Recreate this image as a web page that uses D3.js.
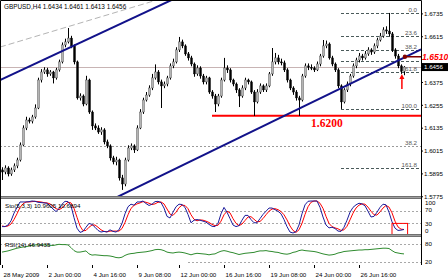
<!DOCTYPE html>
<html>
<head>
<meta charset="utf-8">
<script src="https://cdn.jsdelivr.net/npm/d3@7"></script>
<style>
  body { margin: 0; background: #fff; }
  svg { display: block; font-family: "Liberation Sans", Arial, sans-serif; }
</style>
</head>
<body>
<svg width="448" height="280"></svg>
<script>
// GBPUSD H4 candles
var open = [
  1.5916,1.5905,1.5926,1.5895,1.5916,1.5937,1.5968,1.6047,1.6136,1.6178,
  1.6172,1.6194,1.6241,1.6388,1.6430,1.6441,1.6420,1.6430,1.6399,1.6441,
  1.6483,1.6572,1.6588,1.6608,1.6567,1.6483,1.6294,1.6304,1.6262,1.6388,
  1.6220,1.6147,1.6136,1.6115,1.6126,1.6063,1.6042,1.5979,1.5958,1.5968,
  1.5874,1.5842,1.5968,1.6031,1.6042,1.6021,1.6136,1.6220,1.6283,1.6309,
  1.6346,1.6399,1.6430,1.6378,1.6357,1.6367,1.6399,1.6462,1.6483,1.6546,
  1.6588,1.6567,1.6525,1.6504,1.6472,1.6420,1.6451,1.6409,1.6378,1.6399,
  1.6325,1.6304,1.6262,1.6304,1.6388,1.6451,1.6441,1.6388,1.6367,1.6336,
  1.6304,1.6346,1.6388,1.6378,1.6325,1.6273,1.6325,1.6357,1.6336,1.6357,
  1.6420,1.6483,1.6504,1.6483,1.6478,1.6441,1.6388,1.6346,1.6325,1.6294,
  1.6283,1.6409,1.6462,1.6455,1.6451,1.6441,1.6472,1.6514,1.6567,1.6577,
  1.6504,1.6472,1.6441,1.6357,1.6273,1.6336,1.6367,1.6409,1.6462,1.6493,
  1.6514,1.6504,1.6525,1.6546,1.6535,1.6567,1.6598,1.6619,1.6651,1.6645,
  1.6630,1.6546,1.6514,1.6462,1.6434];
var high = [
  1.5930,1.5940,1.5935,1.5928,1.5950,1.5980,1.6060,1.6150,1.6195,1.6190,
  1.6205,1.6260,1.6400,1.6445,1.6455,1.6452,1.6440,1.6436,1.6452,1.6495,
  1.6585,1.6605,1.6661,1.6620,1.6575,1.6490,1.6318,1.6312,1.6410,1.6395,
  1.6228,1.6160,1.6150,1.6140,1.6135,1.6075,1.6050,1.5990,1.5985,1.5975,
  1.5890,1.5980,1.6045,1.6055,1.6050,1.6150,1.6235,1.6295,1.6325,1.6360,
  1.6420,1.6470,1.6440,1.6390,1.6380,1.6410,1.6475,1.6500,1.6560,1.6614,
  1.6600,1.6575,1.6535,1.6515,1.6480,1.6465,1.6460,1.6420,1.6410,1.6405,
  1.6335,1.6315,1.6315,1.6400,1.6504,1.6465,1.6450,1.6395,1.6375,1.6345,
  1.6360,1.6400,1.6395,1.6385,1.6335,1.6340,1.6370,1.6365,1.6370,1.6430,
  1.6556,1.6530,1.6520,1.6500,1.6490,1.6450,1.6395,1.6355,1.6335,1.6305,
  1.6420,1.6475,1.6475,1.6470,1.6460,1.6485,1.6525,1.6598,1.6595,1.6585,
  1.6515,1.6480,1.6450,1.6365,1.6345,1.6380,1.6420,1.6475,1.6505,1.6530,
  1.6525,1.6540,1.6560,1.6555,1.6580,1.6610,1.6635,1.6665,1.6670,1.6740,
  1.6640,1.6555,1.6525,1.6470,1.6461];
var low = [
  1.5863,1.5893,1.5882,1.5885,1.5905,1.5925,1.5960,1.6040,1.6125,1.6160,
  1.6160,1.6185,1.6235,1.6375,1.6420,1.6405,1.6410,1.6370,1.6390,1.6432,
  1.6475,1.6560,1.6580,1.6555,1.6470,1.6285,1.6280,1.6250,1.6255,1.6210,
  1.6126,1.6125,1.6105,1.6100,1.6050,1.6030,1.5965,1.5945,1.5940,1.5860,
  1.5811,1.5830,1.5960,1.6020,1.6005,1.6015,1.6130,1.6210,1.6275,1.6300,
  1.6335,1.6390,1.6365,1.6241,1.6345,1.6355,1.6390,1.6450,1.6475,1.6535,
  1.6555,1.6515,1.6490,1.6460,1.6405,1.6410,1.6395,1.6365,1.6365,1.6315,
  1.6290,1.6220,1.6250,1.6295,1.6380,1.6425,1.6375,1.6355,1.6320,1.6246,
  1.6295,1.6335,1.6365,1.6315,1.6199,1.6265,1.6315,1.6325,1.6325,1.6350,
  1.6410,1.6470,1.6470,1.6465,1.6430,1.6375,1.6335,1.6310,1.6280,1.6199,
  1.6275,1.6400,1.6440,1.6440,1.6430,1.6435,1.6460,1.6505,1.6555,1.6495,
  1.6460,1.6430,1.6345,1.6236,1.6265,1.6325,1.6355,1.6400,1.6450,1.6480,
  1.6490,1.6495,1.6515,1.6520,1.6525,1.6555,1.6590,1.6610,1.6630,1.6615,
  1.6535,1.6500,1.6450,1.6420,1.6413];
var close = [
  1.5905,1.5926,1.5895,1.5916,1.5937,1.5968,1.6047,1.6136,1.6178,1.6172,
  1.6194,1.6241,1.6388,1.6430,1.6441,1.6420,1.6430,1.6399,1.6441,1.6483,
  1.6572,1.6588,1.6608,1.6567,1.6483,1.6294,1.6304,1.6262,1.6388,1.6220,
  1.6147,1.6136,1.6115,1.6126,1.6063,1.6042,1.5979,1.5958,1.5968,1.5874,
  1.5842,1.5968,1.6031,1.6042,1.6021,1.6136,1.6220,1.6283,1.6309,1.6346,
  1.6399,1.6430,1.6378,1.6357,1.6367,1.6399,1.6462,1.6483,1.6546,1.6588,
  1.6567,1.6525,1.6504,1.6472,1.6420,1.6451,1.6409,1.6378,1.6399,1.6325,
  1.6304,1.6262,1.6304,1.6388,1.6451,1.6441,1.6388,1.6367,1.6336,1.6304,
  1.6346,1.6388,1.6378,1.6325,1.6273,1.6325,1.6357,1.6336,1.6357,1.6420,
  1.6483,1.6504,1.6483,1.6478,1.6441,1.6388,1.6346,1.6325,1.6294,1.6283,
  1.6409,1.6462,1.6455,1.6451,1.6441,1.6472,1.6514,1.6567,1.6577,1.6504,
  1.6472,1.6441,1.6357,1.6273,1.6336,1.6367,1.6409,1.6462,1.6493,1.6514,
  1.6504,1.6525,1.6546,1.6535,1.6567,1.6598,1.6619,1.6651,1.6645,1.6630,
  1.6546,1.6514,1.6462,1.6434,1.6456];

// Stochastic(5,3,3) main and signal, RSI(14)
var stoK = [
  20,20,25,38,62,80,97,97,97,98, 100,99,96,95,94,93,85,75,67,76,
  90,99,98,85,48,15,2,5,18,30, 27,18,8,3,5,3,10,5,3,10,
  30,60,82,90,87,97,97,100,92,86, 90,98,99,95,78,52,47,65,82,90,
  89,80,58,32,40,42,40,37,34,27, 21,20,30,60,80,65,45,25,20,23,
  40,55,55,42,32,32,45,58,68,78, 78,73,68,60,42,20,3,0,4,25,
  60,88,99,100,100,100,80,50,25,16, 18,14,6,5,18,40,65,80,88,93,
  91,85,68,50,52,65,80,90,88,65, 35,15,8,9,11];
var stoD = [
  22,20,22,28,42,60,80,91,97,97, 98,99,98,97,95,94,91,84,76,73,
  78,88,96,94,77,49,22,7,8,18, 25,25,18,10,5,4,6,6,6,6,
  14,33,57,77,86,91,94,98,96,93, 89,91,96,97,91,75,59,55,65,79,
  87,86,76,57,43,38,41,40,37,33, 27,23,24,37,57,68,63,45,30,23,
  28,39,50,51,43,35,36,45,57,68, 75,76,73,67,57,41,22,8,2,10,
  30,58,82,96,100,100,93,77,52,30, 20,16,13,8,10,21,41,62,78,87,
  91,90,81,68,57,56,66,78,86,81, 63,37,19,12,11];
var rsi = [
  53,55,57,60,63,66,68,70,71,73, 75,77,77,77,77,76,76,75,77,79,
  78,78,77,68,58,53,53,55,57,47, 43,44,43,42,41,41,40,38,35,34,
  36,42,46,48,49,51,52,53,54,56, 58,61,62,61,58,53,51,50,52,53,
  52,50,47,44,47,49,48,47,46,44, 46,47,52,56,58,56,53,51,48,45,
  47,49,50,51,52,55,57,57,58,56, 55,53,52,49,47,46,48,52,54,58,
  60,58,57,56,55,53,50,47,45,43, 44,46,50,52,55,56,57,58,59,60,
  60,61,61,62,63,64,65,66,66,65, 58,52,50,48,47];

var priceTicks = [1.6735, 1.6615, 1.6375, 1.6255, 1.6135, 1.6015, 1.5895, 1.5775];
var timeLabels = ["28 May 2009", "2 Jun 00:00", "4 Jun 16:00", "9 Jun 08:00", "12 Jun 00:00",
                  "16 Jun 16:00", "19 Jun 08:00", "24 Jun 00:00", "26 Jun 16:00"];
var timeBars = [0, 15, 30, 45, 59, 74, 89, 104, 119];

var fibHigh = 1.6740, fibLow = 1.6236, fibFrom = 113;
var fibLevels = [0, 23.6, 38.2, 50, 61.8, 100, 161.8];
var fibLabels = ["0.0", "23.6", "38.2", "", "61.8", "100.0", "161.8"];

// trend lines as two anchor points (bar, price)
var trendLines = [
  {b1: 0, p1: 1.6564, b2: 40, p2: 1.6753, color: "#b4b4b4", w: 1, dash: "6,3"},
  {b1: 0, p1: 1.6393, b2: 50, p2: 1.6760, color: "#12128a", w: 2, dash: null},
  {b1: 40, p1: 1.5786, b2: 130, p2: 1.6475, color: "#12128a", w: 2, dash: null}
];

var supportLevel = 1.6200, supportFrom = 70, supportLabelBar = 103;
var markLevel = 1.6510, markBar = 134.3;
var arrowBar = 133.3, arrowTop = 1.6420, arrowBottom = 1.6341;

var svg = d3.select("svg");
var right = 421;

var x = d3.scaleLinear().domain([0, 134]).range([2, 404]);
var y = d3.scaleLinear().domain([1.5779, 1.6808]).range([196, 0]);
var ySto = d3.scaleLinear().domain([0, 100]).range([233, 201]);
var yRsi = d3.scaleLinear().domain([0, 100]).range([268, 238]);

var defs = svg.append("defs");
function clip(id, y0, h) {
  defs.append("clipPath").attr("id", id)
    .append("rect").attr("x", 0).attr("y", y0).attr("width", right).attr("height", h);
}
clip("cMain", 0, 196);
clip("cSto", 199, 35);
clip("cRsi", 237, 28);

var main = svg.append("g").attr("clip-path", "url(#cMain)");

// bid line
main.append("line")
  .attr("x1", 0).attr("x2", right)
  .attr("y1", Math.round(y(close[close.length - 1])) + 0.5)
  .attr("y2", Math.round(y(close[close.length - 1])) + 0.5)
  .attr("stroke", "#c8b4b4");

// fibo 138.2 spans whole chart
var f1382 = Math.round(y(fibHigh - 1.382 * (fibHigh - fibLow))) + 0.5;
main.append("line").attr("x1", 0).attr("x2", right).attr("y1", f1382).attr("y2", f1382)
  .attr("stroke", "#9a9a9a").attr("stroke-dasharray", "2,2");
main.append("text").attr("x", 417).attr("y", f1382 - 2).attr("text-anchor", "end")
  .attr("font-size", 6.2).attr("fill", "#555").text("38.2");

fibLevels.forEach(function (lv, k) {
  var yy = Math.round(y(fibHigh - lv / 100 * (fibHigh - fibLow))) + 0.5;
  main.append("line").attr("x1", x(fibFrom)).attr("x2", right - 1)
    .attr("y1", yy).attr("y2", yy)
    .attr("stroke", "#4a5a5a").attr("stroke-dasharray", "3,2");
  main.append("text").attr("x", 417).attr("y", yy - 2).attr("text-anchor", "end")
    .attr("font-size", 6.2).attr("fill", "#555").text(fibLabels[k]);
});

// support 1.6200
var ys = y(supportLevel);
main.append("line").attr("x1", x(supportFrom)).attr("x2", right)
  .attr("y1", ys).attr("y2", ys).attr("stroke", "#ff0000").attr("stroke-width", 2);
main.append("text").attr("x", x(supportLabelBar)).attr("y", ys + 11)
  .attr("font-family", "'Liberation Serif', 'Times New Roman', serif")
  .attr("font-weight", "bold").attr("font-size", 11.5).attr("fill", "#ff0000")
  .text(supportLevel.toFixed(4));

// candles
var bars = d3.range(close.length);
main.append("g").selectAll("line").data(bars).enter().append("line")
  .attr("x1", function (i) { return Math.round(x(i)) + 0.5; })
  .attr("x2", function (i) { return Math.round(x(i)) + 0.5; })
  .attr("y1", function (i) { return y(high[i]); })
  .attr("y2", function (i) { return y(low[i]); })
  .attr("stroke", "#000");
main.append("g").selectAll("rect").data(bars).enter().append("rect")
  .attr("x", function (i) { return Math.round(x(i)) - 0.5; })
  .attr("width", 2)
  .attr("y", function (i) { return y(Math.max(open[i], close[i])); })
  .attr("height", function (i) { return Math.max(1, Math.abs(y(open[i]) - y(close[i]))); })
  .attr("fill", function (i) { return close[i] >= open[i] ? "#b4b4b4" : "#000"; })
  .attr("stroke", function (i) { return close[i] >= open[i] ? "#444" : "#000"; })
  .attr("stroke-width", 0.4);

// trend lines, extended across the panel
trendLines.forEach(function (t) {
  var slope = (t.p2 - t.p1) / (t.b2 - t.b1);
  var bA = x.invert(0), bB = x.invert(right);
  main.append("line")
    .attr("x1", 0).attr("y1", y(t.p1 + slope * (bA - t.b1)))
    .attr("x2", right).attr("y2", y(t.p1 + slope * (bB - t.b1)))
    .attr("stroke", t.color).attr("stroke-width", t.w)
    .attr("stroke-dasharray", t.dash);
});

// 1.6510 marker
var ym = y(markLevel);
main.append("line").attr("x1", x(markBar)).attr("x2", right).attr("y1", ym).attr("y2", ym)
  .attr("stroke", "#800000").attr("stroke-width", 1.5);
main.append("circle").attr("cx", x(markBar)).attr("cy", ym).attr("r", 2.2).attr("fill", "#800000");

// red arrow
var ax = x(arrowBar), at = y(arrowTop), ab = y(arrowBottom);
main.append("line").attr("x1", ax).attr("x2", ax).attr("y1", at + 3).attr("y2", ab)
  .attr("stroke", "#ff0000").attr("stroke-width", 1.5);
main.append("path").attr("d", "M" + ax + "," + at + "L" + (ax - 2.5) + "," + (at + 5) + "L" + (ax + 2.5) + "," + (at + 5) + "Z")
  .attr("fill", "#ff0000");

// title
svg.append("text").attr("x", 4).attr("y", 9).attr("font-size", 6.4).attr("fill", "#000")
  .text("GBPUSD,H4  " + open[134].toFixed(4) + " " + high[134].toFixed(4) + " " + low[134].toFixed(4) + " " + close[134].toFixed(4));

// price axis
var ax1 = svg.append("g");
priceTicks.forEach(function (p) {
  var yy = y(p);
  ax1.append("line").attr("x1", right).attr("x2", right + 2).attr("y1", yy).attr("y2", yy).attr("stroke", "#000");
  ax1.append("text").attr("x", 424).attr("y", yy + 2.3).attr("font-size", 6.2).text(p.toFixed(4));
});
svg.append("text").attr("x", 422).attr("y", ym + 3).attr("font-size", 8.6)
  .attr("font-style", "italic").attr("font-weight", "bold").attr("fill", "#ff0000")
  .text(markLevel.toFixed(4));
var yc = y(close[134]);
svg.append("rect").attr("x", right).attr("y", yc - 4).attr("width", 27).attr("height", 8).attr("fill", "#000");
svg.append("text").attr("x", 424).attr("y", yc + 2.3).attr("font-size", 6.2).attr("fill", "#fff")
  .text(close[134].toFixed(4));

// stochastic panel
var sto = svg.append("g").attr("clip-path", "url(#cSto)");
[70, 30].forEach(function (v) {
  sto.append("line").attr("x1", 0).attr("x2", right)
    .attr("y1", Math.round(ySto(v)) + 0.5).attr("y2", Math.round(ySto(v)) + 0.5)
    .attr("stroke", "#a8a8a8").attr("stroke-dasharray", "2,2");
});
var lineSto = function (arr) {
  return d3.line().x(function (d, i) { return x(i); }).y(function (d) { return ySto(d); })(arr);
};
sto.append("path").attr("d", lineSto(stoD)).attr("fill", "none").attr("stroke", "#ff0000");
sto.append("path").attr("d", lineSto(stoK)).attr("fill", "none").attr("stroke", "#1c1c9c");
svg.append("rect").attr("x", x(130)).attr("y", ySto(30)).attr("width", x(135.2) - x(130))
  .attr("height", ySto(-9) - ySto(30)).attr("fill", "none").attr("stroke", "#ff0000");
svg.append("text").attr("x", 5).attr("y", 208).attr("font-size", 6.2)
  .text("Sto(5,3,3) 10.9605 10.6894");
[[100, 205], [70, 212], [30, 226], [0, 233]].forEach(function (d) {
  svg.append("text").attr("x", 425).attr("y", d[1]).attr("font-size", 6.2).text(d[0]);
});

// rsi panel
var rp = svg.append("g").attr("clip-path", "url(#cRsi)");
rp.append("line").attr("x1", 0).attr("x2", right)
  .attr("y1", Math.round(yRsi(80)) + 0.5).attr("y2", Math.round(yRsi(80)) + 0.5)
  .attr("stroke", "#a8a8a8").attr("stroke-dasharray", "2,2");
rp.append("line").attr("x1", x(62)).attr("x2", right)
  .attr("y1", Math.round(yRsi(20)) + 0.5).attr("y2", Math.round(yRsi(20)) + 0.5)
  .attr("stroke", "#a8a8a8").attr("stroke-dasharray", "2,2");
rp.append("path")
  .attr("d", d3.line().x(function (d, i) { return x(i); }).y(function (d) { return yRsi(d); })(rsi))
  .attr("fill", "none").attr("stroke", "#2e8b2e");
svg.append("text").attr("x", 5).attr("y", 247).attr("font-size", 6.2).text("RSI(14) 46.9435");
svg.append("text").attr("x", 425).attr("y", yRsi(80) + 2.3).attr("font-size", 6.2).text("80");
svg.append("text").attr("x", 425).attr("y", yRsi(20) + 2.3).attr("font-size", 6.2).text("20");

// panel separators and frame
[196, 234].forEach(function (s) {
  svg.append("rect").attr("x", 0).attr("y", s).attr("width", right + 1).attr("height", 3).attr("fill", "#a0a0a0");
  svg.append("line").attr("x1", 0).attr("x2", right + 1).attr("y1", s + 0.5).attr("y2", s + 0.5).attr("stroke", "#707070");
  svg.append("line").attr("x1", 0).attr("x2", right + 1).attr("y1", s + 2.5).attr("y2", s + 2.5).attr("stroke", "#707070");
});
svg.append("path").attr("d", "M0.5,265V0.5H" + (right + 0.5) + "V265")
  .attr("fill", "none").attr("stroke", "#000");

// time axis
timeBars.forEach(function (b, k) {
  var xx = Math.round(x(b)) + 0.5;
  svg.append("line").attr("x1", xx).attr("x2", xx).attr("y1", 265).attr("y2", 268).attr("stroke", "#000");
  svg.append("text").attr("x", xx + 1).attr("y", 277).attr("font-size", 6.2).text(timeLabels[k]);
});
</script>
</body>
</html>
